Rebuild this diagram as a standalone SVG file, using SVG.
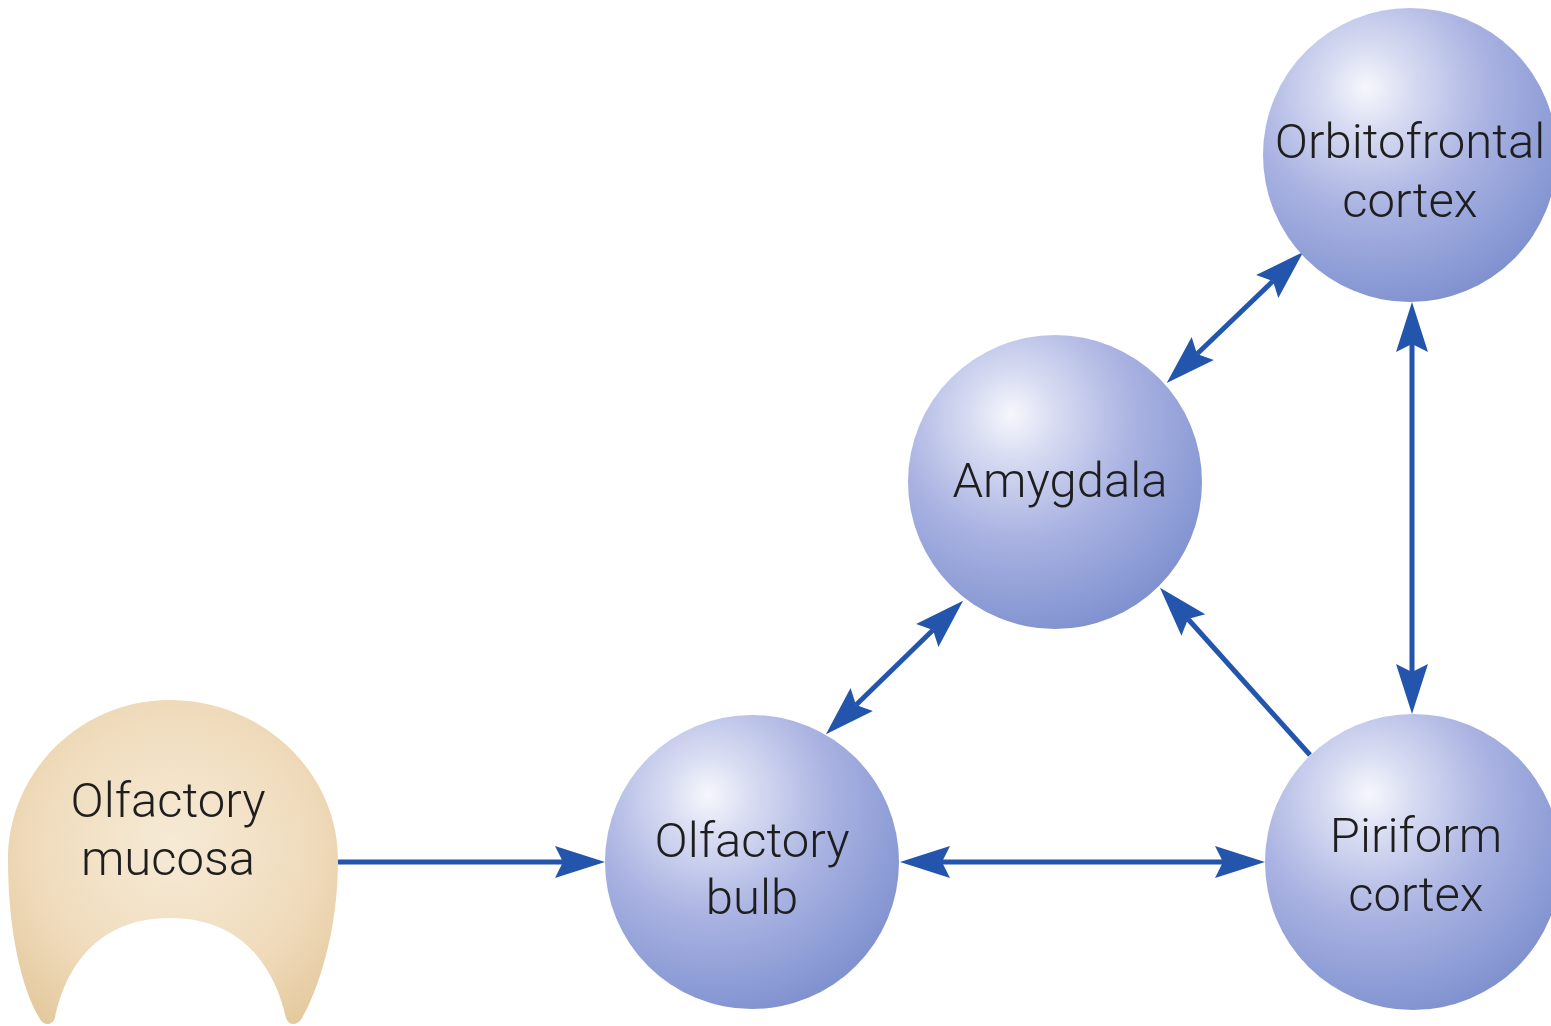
<svg xmlns="http://www.w3.org/2000/svg" width="1551" height="1026" viewBox="0 0 1551 1026">
<style>
.lbl{font-family:Roboto,"Liberation Sans",Arial,sans-serif;font-weight:300;font-size:49px;fill:#1e1e1e;text-anchor:middle}
.conn{stroke:#2355ad;stroke-width:5;fill:none}
</style>
<defs>
<radialGradient id="sph" cx="0.38" cy="0.3" r="0.8" fx="0.35" fy="0.27">
<stop offset="0" stop-color="#f6f7fc"/>
<stop offset="0.18" stop-color="#d8dcf2"/>
<stop offset="0.5" stop-color="#aab3e2"/>
<stop offset="0.85" stop-color="#8697d3"/>
<stop offset="1" stop-color="#7889ca"/>
</radialGradient>
<radialGradient id="muc" cx="0.5" cy="0.45" r="0.68">
<stop offset="0" stop-color="#f6ead6"/>
<stop offset="0.6" stop-color="#f0dcbd"/>
<stop offset="1" stop-color="#e4c89c"/>
</radialGradient>
<marker id="ah" markerUnits="userSpaceOnUse" viewBox="-10 -18 54 36" refX="0" refY="0" markerWidth="54" markerHeight="36" orient="auto-start-reverse">
<path d="M42,0 L-8,-16 L0,0 L-8,16 Z" fill="#2355ad"/>
</marker>
</defs>
<g id="connectors">
<line class="conn" x1="338" y1="862" x2="563" y2="862" marker-end="url(#ah)"/>
<line class="conn" x1="942" y1="862" x2="1223" y2="862" marker-start="url(#ah)" marker-end="url(#ah)"/>
<line class="conn" x1="1412" y1="344" x2="1412" y2="672" marker-start="url(#ah)" marker-end="url(#ah)"/>
<line class="conn" x1="1197" y1="354" x2="1273" y2="281" marker-start="url(#ah)" marker-end="url(#ah)"/>
<line class="conn" x1="856" y1="705" x2="933" y2="630" marker-start="url(#ah)" marker-end="url(#ah)"/>
<line class="conn" x1="1310" y1="755" x2="1188" y2="619" marker-end="url(#ah)"/>
</g>
<g id="mucosa">
<path d="M170,700 C262,700 338,772 338,860 C338,932 318,990 302,1018 C297,1026 289,1026 286,1018 C277,978 250,918 170,918 C90,918 63,978 55,1018 C52,1026 44,1026 40,1019 C22,990 8,932 8,860 C8,772 80,700 170,700 Z" fill="url(#muc)"/>
<text class="lbl" x="168" y="817">Olfactory</text>
<text class="lbl" x="168" y="875">mucosa</text>
</g>
<g id="bulb">
<circle cx="752" cy="862" r="147" fill="url(#sph)"/>
<text class="lbl" x="752" y="857">Olfactory</text>
<text class="lbl" x="752" y="914">bulb</text>
</g>
<g id="amygdala">
<circle cx="1055" cy="482" r="147" fill="url(#sph)"/>
<text class="lbl" x="1060" y="497">Amygdala</text>
</g>
<g id="orbitofrontal">
<circle cx="1410" cy="155" r="147" fill="url(#sph)"/>
<text class="lbl" x="1410" y="158">Orbitofrontal</text>
<text class="lbl" x="1410" y="217">cortex</text>
</g>
<g id="piriform">
<circle cx="1413" cy="862" r="148" fill="url(#sph)"/>
<text class="lbl" x="1416" y="852">Piriform</text>
<text class="lbl" x="1416" y="911">cortex</text>
</g>
</svg>
